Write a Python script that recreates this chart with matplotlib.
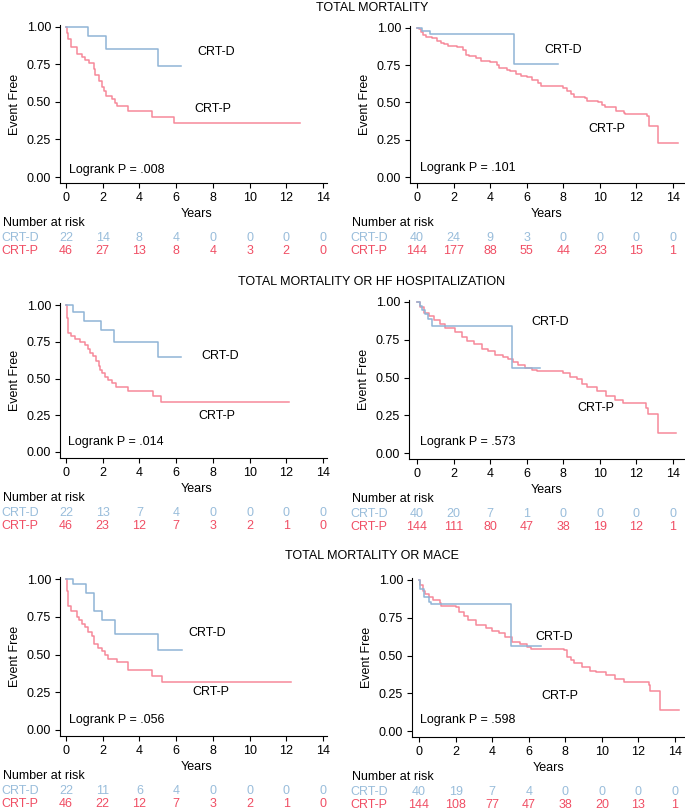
import matplotlib
matplotlib.use("Agg")
import matplotlib.pyplot as plt
import matplotlib.transforms as mtransforms

plt.rcParams["font.family"] = ["Liberation Sans", "DejaVu Sans"]
plt.rcParams["font.size"] = 9

W, H = 685, 810

# --- Colors ---
LINE_D = "#8fb4d6"
LINE_P = "#f6899a"
TEXT_D = "#99bddb"
TEXT_P = "#f04e64"

# --- Data ---
titles = ["TOTAL MORTALITY",
          "TOTAL MORTALITY OR HF HOSPITALIZATION",
          "TOTAL MORTALITY OR MACE"]

risk_years = [0, 2, 4, 6, 8, 10, 12, 14]

# total mortality, small cohort (left)
tm_l_d_t = [0, 1.2, 2.2, 5.0, 6.25]
tm_l_d_s = [1.0, 0.94, 0.855, 0.737, 0.737]
tm_l_p_t = [0, 0.04, 0.1, 0.25, 0.62, 0.85, 1.04, 1.27, 1.5, 1.6, 1.8, 1.95,
            2.07, 2.18, 2.5, 2.67, 2.8, 3.4, 4.7, 5.9, 12.76]
tm_l_p_s = [1.0, 0.96, 0.92, 0.867, 0.82, 0.80, 0.78, 0.76, 0.72, 0.68, 0.64,
            0.60, 0.57, 0.54, 0.52, 0.49, 0.47, 0.44, 0.40, 0.36, 0.36]
tm_l_risk_d = [22, 14, 8, 4, 0, 0, 0, 0]
tm_l_risk_p = [46, 27, 13, 8, 4, 3, 2, 0]

# total mortality, large cohort (right)
tm_r_d_t = [0, 0.3, 0.7, 5.33, 7.73]
tm_r_d_s = [1.0, 0.98, 0.96, 0.757, 0.757]
tm_r_p_t = [0, 0.1, 0.2, 0.35, 0.5, 0.8, 1.1, 1.3, 1.5, 1.7, 2.2, 2.5, 2.7,
            2.85, 3.2, 3.5, 4.0, 4.4, 4.5, 4.9, 5.1, 5.4, 5.7, 6.0, 6.3, 6.6,
            6.8, 8.0, 8.2, 8.4, 8.6, 9.2, 9.3, 9.9, 10.1, 10.3, 10.9, 11.3,
            11.4, 12.6, 12.7, 13.2, 14.3]
tm_r_p_s = [1.0, 0.99, 0.97, 0.95, 0.94, 0.93, 0.91, 0.90, 0.89, 0.88, 0.87,
            0.85, 0.82, 0.81, 0.80, 0.78, 0.77, 0.75, 0.73, 0.72, 0.71, 0.69,
            0.68, 0.67, 0.65, 0.63, 0.61, 0.60, 0.58, 0.56, 0.54, 0.53, 0.51,
            0.50, 0.48, 0.47, 0.44, 0.43, 0.425, 0.41, 0.34, 0.23, 0.23]
tm_r_risk_d = [40, 24, 9, 3, 0, 0, 0, 0]
tm_r_risk_p = [144, 177, 88, 55, 44, 23, 15, 1]

# total mortality or HF hospitalization
hf_l_d_t = [0, 0.4, 1.0, 1.9, 2.6, 5.0, 6.25]
hf_l_d_s = [1.0, 0.955, 0.89, 0.83, 0.745, 0.645, 0.645]
hf_l_p_t = [0, 0.04, 0.13, 0.27, 0.49, 0.76, 1.04, 1.18, 1.31, 1.45, 1.64,
            1.78, 1.85, 1.95, 2.13, 2.31, 2.49, 2.73, 3.4, 4.73, 5.18, 12.13]
hf_l_p_s = [1.0, 0.91, 0.81, 0.79, 0.77, 0.75, 0.73, 0.70, 0.675, 0.65, 0.62,
            0.585, 0.557, 0.535, 0.51, 0.49, 0.466, 0.443, 0.416, 0.38, 0.343,
            0.343]
hf_l_risk_d = [22, 13, 7, 4, 0, 0, 0, 0]
hf_l_risk_p = [46, 23, 12, 7, 3, 2, 1, 0]

hf_r_d_t = [0, 0.15, 0.3, 0.45, 0.6, 0.8, 5.18, 6.73]
hf_r_d_s = [1.0, 0.975, 0.945, 0.92, 0.89, 0.843, 0.56, 0.56]
hf_r_p_t = [0, 0.18, 0.36, 0.64, 0.91, 1.27, 1.55, 2.09, 2.45, 2.73, 3.09,
            3.55, 3.91, 4.27, 4.73, 5.0, 5.27, 5.55, 5.91, 6.27, 6.55, 8.0,
            8.36, 8.73, 9.0, 9.27, 9.82, 10.36, 10.82, 11.27, 12.55, 12.64,
            13.18, 14.18]
hf_r_p_s = [1.0, 0.966, 0.93, 0.91, 0.88, 0.855, 0.83, 0.80, 0.77, 0.74, 0.72,
            0.69, 0.676, 0.65, 0.634, 0.62, 0.605, 0.58, 0.565, 0.55, 0.54,
            0.528, 0.505, 0.49, 0.46, 0.44, 0.41, 0.377, 0.35, 0.328, 0.295,
            0.257, 0.133, 0.133]
hf_r_risk_d = [40, 20, 7, 1, 0, 0, 0, 0]
hf_r_risk_p = [144, 111, 80, 47, 38, 19, 12, 1]

# total mortality or MACE
mace_l_d_t = [0, 0.4, 1.1, 1.55, 1.95, 2.65, 5.0, 6.3]
mace_l_d_s = [1.0, 0.965, 0.907, 0.788, 0.73, 0.633, 0.53, 0.53]
mace_l_p_t = [0, 0.05, 0.09, 0.25, 0.62, 0.71, 0.85, 1.04, 1.22, 1.4, 1.55,
              1.76, 1.95, 2.13, 2.31, 2.8, 3.36, 4.69, 5.22, 12.25]
mace_l_p_s = [1.0, 0.92, 0.82, 0.79, 0.75, 0.73, 0.70, 0.68, 0.65, 0.62, 0.57,
              0.54, 0.52, 0.50, 0.47, 0.45, 0.40, 0.36, 0.32, 0.32]
mace_l_risk_d = [22, 11, 6, 4, 0, 0, 0, 0]
mace_l_risk_p = [46, 22, 12, 7, 3, 2, 1, 0]

mace_r_d_t = [0, 0.05, 0.25, 0.52, 0.64, 5.04, 6.68]
mace_r_d_s = [1.0, 0.94, 0.89, 0.856, 0.84, 0.564, 0.564]
mace_r_p_t = [0, 0.07, 0.21, 0.34, 0.57, 0.79, 1.14, 1.23, 2.04, 2.2, 2.48,
              2.66, 3.1, 3.64, 4.0, 4.36, 4.71, 5.07, 5.5, 5.9, 6.14, 7.93,
              8.1, 8.3, 8.46, 8.9, 9.36, 9.7, 10.25, 10.7, 11.23, 12.57, 12.66,
              13.2, 14.2]
mace_r_p_s = [1.0, 0.966, 0.93, 0.91, 0.89, 0.867, 0.845, 0.83, 0.82, 0.79,
              0.76, 0.735, 0.705, 0.685, 0.664, 0.646, 0.624, 0.59, 0.575,
              0.557, 0.544, 0.535, 0.49, 0.47, 0.45, 0.425, 0.40, 0.39, 0.37,
              0.347, 0.325, 0.303, 0.263, 0.14, 0.14]
mace_r_risk_d = [40, 19, 7, 4, 0, 0, 0, 0]
mace_r_risk_p = [144, 108, 77, 47, 38, 20, 13, 1]

logrank = [".008", ".101", ".014", ".573", ".056", ".598"]

panels = [
    (tm_l_d_t, tm_l_d_s, tm_l_p_t, tm_l_p_s, tm_l_risk_d, tm_l_risk_p),
    (tm_r_d_t, tm_r_d_s, tm_r_p_t, tm_r_p_s, tm_r_risk_d, tm_r_risk_p),
    (hf_l_d_t, hf_l_d_s, hf_l_p_t, hf_l_p_s, hf_l_risk_d, hf_l_risk_p),
    (hf_r_d_t, hf_r_d_s, hf_r_p_t, hf_r_p_s, hf_r_risk_d, hf_r_risk_p),
    (mace_l_d_t, mace_l_d_s, mace_l_p_t, mace_l_p_s, mace_l_risk_d, mace_l_risk_p),
    (mace_r_d_t, mace_r_d_s, mace_r_p_t, mace_r_p_s, mace_r_risk_d, mace_r_risk_p),
]

# --- Layout (pixels): spine left, spine right, x=0 px, x=14 px, y=1 px, y=0 px, axis bottom px
layout = [
    (60, 327, 66, 323, 27, 177, 183),
    (410, 684, 417, 673, 28, 177, 183),
    (60, 327, 66, 323, 305, 452, 458),
    (409, 684, 417, 673, 302, 453, 459),
    (60, 327, 66, 323, 579, 730, 736),
    (412, 684, 419, 675, 580, 731, 737),
]
# label positions in data coords: CRT-D (x, y), CRT-P (x, y), logrank (x, y)
label_pos = [
    ((8.2, 0.83), (8.0, 0.45), (0.18, 0.05)),
    ((8.0, 0.85), (10.4, 0.32), (0.18, 0.06)),
    ((8.4, 0.65), (8.2, 0.245), (0.13, 0.068)),
    ((7.3, 0.87), (9.8, 0.30), (0.18, 0.07)),
    ((7.7, 0.64), (7.9, 0.25), (0.18, 0.066)),
    ((7.4, 0.62), (7.7, 0.23), (0.07, 0.07)),
]
title_y = [8, 282, 556]

fig = plt.figure(figsize=(W / 100, H / 100), dpi=100)


def fy(p):
    return 1 - p / H


for i, (d_t, d_s, p_t, p_s, r_d, r_p) in enumerate(panels):
    left, right, x0, x14, y1, y0, bot = layout[i]
    top = y1 - 2
    ax = fig.add_axes([left / W, fy(bot), (right - left) / W, (bot - top) / H])
    sx = (x14 - x0) / 14
    sy = (y0 - y1)
    ax.set_xlim((left - x0) / sx, (right - x0) / sx)
    ax.set_ylim((y0 - bot) / sy, (y0 - top) / sy)

    ax.step(p_t, p_s, where="post", color=LINE_P, lw=1.1)
    ax.step(d_t, d_s, where="post", color=LINE_D, lw=1.1)

    for s in ["top", "right"]:
        ax.spines[s].set_visible(False)
    for s in ["left", "bottom"]:
        ax.spines[s].set_linewidth(0.8)
    ax.set_xticks(risk_years)
    ax.set_yticks([0, 0.25, 0.5, 0.75, 1.0])
    ax.set_yticklabels(["0.00", "0.25", "0.50", "0.75", "1.00"])
    ax.tick_params(direction="out", length=3.5, width=0.8, labelsize=9, pad=3)
    ax.set_ylabel("Event Free", fontsize=9, labelpad=4)

    (dx, dy), (px_, py_), (lx, ly) = label_pos[i]
    ax.text(dx, dy, "CRT-D", ha="center", va="center", fontsize=9)
    ax.text(px_, py_, "CRT-P", ha="center", va="center", fontsize=9)
    ax.text(lx, ly, f"Logrank P = {logrank[i]}", ha="left", va="center", fontsize=9)

    # Years label + number at risk table
    tr = mtransforms.blended_transform_factory(ax.transData, fig.transFigure)
    ax.text(7.1, fy(bot + 31), "Years", transform=tr, ha="center", va="center", fontsize=9)
    lab_x = 3 if left < 200 else 352
    fig.text(lab_x / W, fy(bot + 40), "Number at risk", ha="left", va="center", fontsize=9)
    fig.text((lab_x - 2) / W, fy(bot + 55), "CRT-D", ha="left", va="center", fontsize=9, color=TEXT_D)
    fig.text((lab_x - 2) / W, fy(bot + 68), "CRT-P", ha="left", va="center", fontsize=9, color=TEXT_P)
    for yr, nd, npp in zip(risk_years, r_d, r_p):
        ax.text(yr, fy(bot + 55), str(nd), transform=tr, ha="center", va="center",
                fontsize=9, color=TEXT_D, clip_on=False)
        ax.text(yr, fy(bot + 68), str(npp), transform=tr, ha="center", va="center",
                fontsize=9, color=TEXT_P, clip_on=False)

for t, y in zip(titles, title_y):
    fig.text(372 / W, fy(y), t, ha="center", va="center", fontsize=9)

fig.savefig("out.png", dpi=100)
